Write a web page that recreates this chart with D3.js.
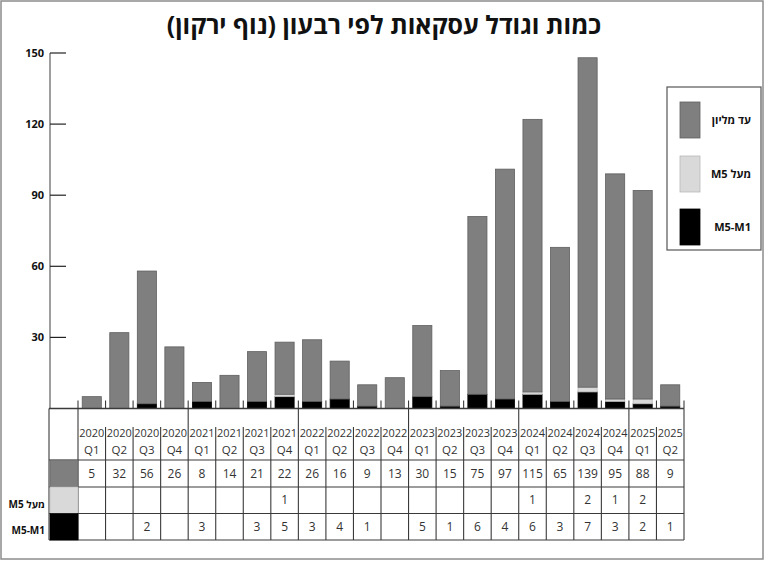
<!DOCTYPE html>
<html><head><meta charset="utf-8">
<script src="https://cdn.jsdelivr.net/npm/d3@7"></script>
<style>
html,body{margin:0;padding:0;background:#fff;}
text{font-family:"Open Sans","DejaVu Sans",sans-serif;}
</style></head>
<body>
<svg id="c" width="768" height="565"></svg>
<script>
const years    = ["2020","2020","2020","2020","2021","2021","2021","2021","2022","2022","2022","2022","2023","2023","2023","2023","2024","2024","2024","2024","2025","2025"];
const quarters = ["Q1","Q2","Q3","Q4","Q1","Q2","Q3","Q4","Q1","Q2","Q3","Q4","Q1","Q2","Q3","Q4","Q1","Q2","Q3","Q4","Q1","Q2"];
const upToMillion = [5,32,56,26,8,14,21,22,26,16,9,13,30,15,75,97,115,65,139,95,88,9];
const over5M      = [0,0,0,0,0,0,0,1,0,0,0,0,0,0,0,0,1,0,2,1,2,0];
const m1to5M      = [0,0,2,0,3,0,3,5,3,4,1,0,5,1,6,4,6,3,7,3,2,1];
const seriesNames = ["עד מליון","M5 מעל","M5-M1"];
const yTicks = [30,60,90,120,150];
const title = "כמות וגודל עסקאות לפי רבעון (נוף ירקון)";

const colors = {gray:"#7f7f7f", light:"#d9d9d9", black:"#000000"};
const strokes = {gray:"#5f5f5f", light:"#b8b8b8", black:"#000000"};

const svg = d3.select("#c");
const cats = years.map((y,i)=>y+" "+quarters[i]);
const left = 78, right = 684, base = 408.5;

// frame
svg.append("rect").attr("x",1).attr("y",1).attr("width",762).attr("height",558)
  .attr("fill","none").attr("stroke","#8c8c8c").attr("stroke-width",1.5);

// title
svg.append("text").attr("x",384).attr("y",34).attr("text-anchor","middle")
  .style("direction","rtl").attr("font-size",25).attr("font-weight","bold").attr("fill","#111")
  .text(title);

const x = d3.scaleBand().domain(cats).range([left,right]).paddingInner(0.27).paddingOuter(0.135);
const xc = d3.scaleBand().domain(cats).range([left,right]);
const y = d3.scaleLinear().domain([0,150]).range([base,53]);

// y axis
svg.append("line").attr("x1",50).attr("x2",50).attr("y1",y(150)).attr("y2",base)
  .attr("stroke","#6a6a6a").attr("stroke-width",1.3);
const yt = svg.append("g");
yt.selectAll("line").data(yTicks).join("line")
  .attr("x1",50).attr("x2",66).attr("y1",d=>y(d)).attr("y2",d=>y(d))
  .attr("stroke","#222").attr("stroke-width",1.2);
yt.selectAll("text").data(yTicks).join("text")
  .attr("x",44).attr("y",d=>y(d)).attr("dy","0.35em").attr("text-anchor","end")
  .attr("font-size",11).attr("font-weight","bold").attr("fill","#111").text(d=>d);

// stacked bars
const rows = cats.map((c,i)=>({c, m1:m1to5M[i], o5:over5M[i], up:upToMillion[i]}));
const stack = d3.stack().keys(["m1","o5","up"])(rows);
const keyColor = {m1:"black", o5:"light", up:"gray"};
stack.forEach(s=>{
  const k = keyColor[s.key];
  svg.append("g").selectAll("rect").data(s.filter(d=>d[1]>d[0])).join("rect")
    .attr("x",d=>x(d.data.c)+0.5).attr("width",x.bandwidth()-1)
    .attr("y",d=>y(d[1])).attr("height",d=>y(d[0])-y(d[1]))
    .attr("fill",colors[k]).attr("stroke",strokes[k]).attr("stroke-width",0.8);
});

// table
const lc = "#3a3a3a";
const tg = svg.append("g");
const tableLeft = 49, rowY = [408.5, 460, 487, 513.5, 540];
tg.append("line").attr("x1",tableLeft).attr("x2",right).attr("y1",base).attr("y2",base).attr("stroke",lc).attr("stroke-width",1.3);
rowY.slice(1).forEach(yy=>tg.append("line").attr("x1",tableLeft).attr("x2",right).attr("y1",yy).attr("y2",yy).attr("stroke",lc).attr("stroke-width",1.1));
const bounds = cats.map(c=>xc(c)).concat([right]);
bounds.forEach((bx,i)=>{
  const yearStart = (i===0 || i===cats.length || years[i]!==years[i-1]);
  tg.append("line").attr("x1",bx).attr("x2",bx).attr("y1",base-8).attr("y2",base).attr("stroke",lc).attr("stroke-width",1.1);
  tg.append("line").attr("x1",bx).attr("x2",bx).attr("y1",yearStart?base:427).attr("y2",rowY[1]).attr("stroke",lc).attr("stroke-width",1.1);
  tg.append("line").attr("x1",bx).attr("x2",bx).attr("y1",rowY[1]).attr("y2",rowY[4]).attr("stroke",lc).attr("stroke-width",1.1);
});
tg.append("line").attr("x1",tableLeft).attr("x2",tableLeft).attr("y1",base).attr("y2",rowY[4]).attr("stroke",lc).attr("stroke-width",1.1);

// header labels
tg.selectAll("text.yr").data(cats).join("text").attr("class","yr")
  .attr("x",c=>xc(c)+xc.bandwidth()/2).attr("y",437).attr("text-anchor","middle")
  .attr("font-size",11.5).attr("textLength",25).attr("lengthAdjust","spacingAndGlyphs")
  .attr("fill","#333").text((c,i)=>years[i]);
tg.selectAll("text.q").data(cats).join("text").attr("class","q")
  .attr("x",c=>xc(c)+xc.bandwidth()/2).attr("y",453.5).attr("text-anchor","middle")
  .attr("font-size",11.5).attr("fill","#333").text((c,i)=>quarters[i]);

// value rows
const valRows = [upToMillion, over5M, m1to5M];
const rowKeys = ["gray","light","black"];
valRows.forEach((vals,r)=>{
  const y0 = rowY[r+1], y1 = rowY[r+2];
  tg.append("rect").attr("x",tableLeft+1).attr("y",y0).attr("width",left-tableLeft-1).attr("height",y1-y0)
    .attr("fill",colors[rowKeys[r]]).attr("stroke",strokes[rowKeys[r]]).attr("stroke-width",0.6);
  tg.selectAll("text.v"+r).data(cats).join("text").attr("class","v"+r)
    .attr("x",c=>xc(c)+xc.bandwidth()/2).attr("y",(y0+y1)/2).attr("dy","0.35em")
    .attr("text-anchor","middle").attr("font-size",12).attr("fill","#333")
    .text((c,i)=>vals[i]>0?vals[i]:"");
  if(r>0){
    tg.append("text").attr("x",45).attr("y",(y0+y1)/2+4).attr("dy","0.35em").attr("text-anchor","end")
      .attr("font-size",10).attr("font-weight","bold").attr("fill","#111").text(seriesNames[r]);
  }
});

// legend
const lg = svg.append("g");
lg.append("rect").attr("x",667).attr("y",87).attr("width",94).attr("height",163)
  .attr("fill","#fff").attr("stroke","#555").attr("stroke-width",1.2);
const legY = [102,156,209];
rowKeys.forEach((k,i)=>{
  lg.append("rect").attr("x",680).attr("y",legY[i]).attr("width",20).attr("height",36)
    .attr("fill",colors[k]).attr("stroke",strokes[k]).attr("stroke-width",0.8);
  lg.append("text").attr("x",751).attr("y",legY[i]+18).attr("dy","0.35em").attr("text-anchor","end")
    .attr("font-size",11).attr("font-weight","bold").attr("fill","#111").text(seriesNames[i]);
});
</script>
</body></html>
